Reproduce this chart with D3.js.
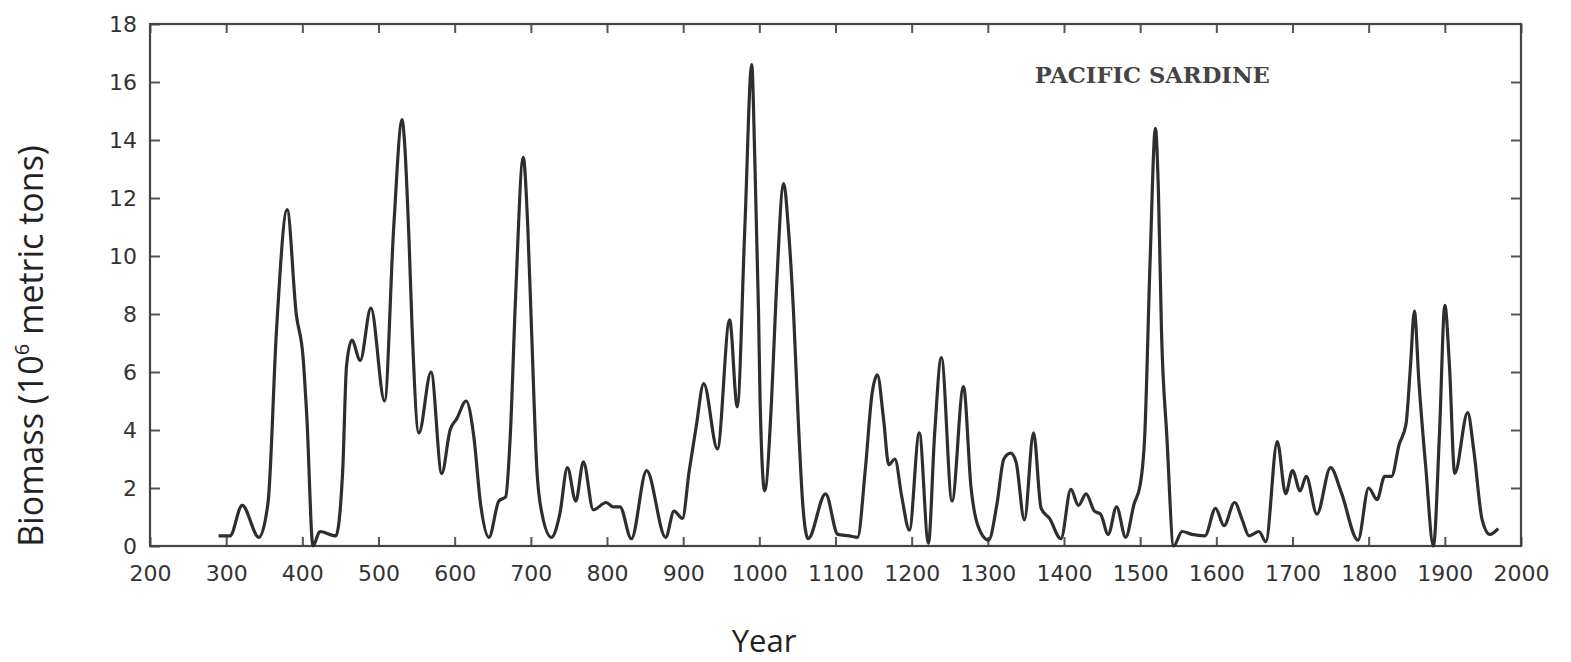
<!DOCTYPE html>
<html>
<head>
<meta charset="utf-8">
<script src="https://cdn.jsdelivr.net/npm/d3@7"></script>
<style>
  body { margin: 0; background: #fff; }
  svg { display: block; }
</style>
</head>
<body>
<svg id="chart"></svg>
<script>
// values
const years = [
  290, 305, 321, 343, 355, 366, 380, 392, 401, 406, 414, 423, 444, 453, 458, 465, 476, 490,
  508, 520, 531, 534, 540, 544, 553, 569, 583, 594, 603, 615, 625, 634, 645, 658, 667, 673,
  680, 690, 696, 701, 708, 714, 727, 738, 748, 759, 769, 782, 799, 808, 817, 832, 852, 877,
  888, 899, 908, 917, 927, 945, 961, 971, 981, 990, 994, 999, 1001, 1007, 1016, 1022, 1032,
  1038, 1045, 1051, 1057, 1064, 1087, 1103, 1118, 1129, 1139, 1148, 1155, 1163, 1170, 1178,
  1187, 1197, 1210, 1222, 1230, 1239, 1253, 1268, 1278, 1287, 1301, 1312, 1321, 1330, 1337,
  1348, 1360, 1370, 1381, 1396, 1409, 1419, 1429, 1440, 1448, 1458, 1469, 1481, 1492, 1500,
  1506, 1513, 1520, 1524, 1528, 1535, 1544, 1555, 1568, 1585, 1599, 1610, 1624, 1634, 1643,
  1656, 1665, 1680, 1691, 1700, 1710, 1718, 1732, 1750, 1764, 1786, 1800, 1811, 1821, 1830,
  1840, 1849, 1855, 1860, 1866, 1875, 1885, 1893, 1900, 1906, 1913, 1930, 1938, 1949, 1959, 1970
];
const biomass = [
  0.35, 0.35, 1.4, 0.3, 1.5, 7.4, 11.6, 8.0, 6.5, 4.4, 0.0, 0.5, 0.35, 2.6, 6.2, 7.1, 6.4, 8.2,
  5.0, 11.0, 14.7, 14.0, 10.6, 7.6, 3.9, 6.0, 2.5, 4.0, 4.4, 5.0, 3.8, 1.45, 0.3, 1.55, 1.7, 3.8,
  8.6, 13.4, 11.0, 7.4, 2.6, 1.2, 0.3, 1.1, 2.7, 1.55, 2.9, 1.25, 1.5, 1.35, 1.35, 0.25, 2.6, 0.3,
  1.2, 0.95, 2.6, 4.1, 5.6, 3.35, 7.8, 4.8, 11.0, 16.6, 13.4, 8.0, 5.0, 1.9, 5.0, 8.6, 12.5,
  11.0, 8.0, 4.4, 1.45, 0.25, 1.8, 0.4, 0.35, 0.3, 2.6, 5.25, 5.9, 4.4, 2.8, 3.0,
  1.7, 0.55, 3.9, 0.1, 3.8, 6.5, 1.55, 5.5, 2.0, 0.7, 0.2, 1.45, 3.0, 3.2, 2.9,
  0.9, 3.9, 1.3, 0.95, 0.25, 1.95, 1.4, 1.8, 1.2, 1.1, 0.4, 1.35, 0.3, 1.45, 2.1,
  3.8, 9.8, 14.4, 12.2, 7.4, 3.8, 0.0, 0.5, 0.4, 0.35, 1.3, 0.7, 1.5, 0.9, 0.35,
  0.5, 0.15, 3.6, 1.8, 2.6, 1.9, 2.4, 1.1, 2.7, 1.85, 0.2, 2.0, 1.6, 2.4, 2.4,
  3.5, 4.2, 6.25, 8.1, 5.65, 2.7, 0.0, 3.9, 8.3, 6.25, 2.5, 4.6, 3.3, 0.9, 0.4, 0.6
];
const xTicks = d3.range(200, 2001, 100);
const yTicks = d3.range(0, 19, 2);
const title = "PACIFIC SARDINE";

const width = 1571, height = 662;
const margin = {top: 24, right: 50, bottom: 116, left: 150};
const innerW = width - margin.left - margin.right;
const innerH = height - margin.top - margin.bottom;

const svg = d3.select("#chart")
  .attr("width", width)
  .attr("height", height);

const chart = svg.append("g")
  .attr("transform", `translate(${margin.left}, ${margin.top})`);

const xscale = d3.scaleLinear().domain([200, 2000]).range([0, innerW]);
const yscale = d3.scaleLinear().domain([0, 18]).range([innerH, 0]);

const tickFont = g => g.selectAll("text")
  .attr("font-family", "DejaVu Sans, sans-serif")
  .attr("font-size", 22)
  .attr("fill", "#333");

const stroke = g => {
  g.select(".domain").remove();
  g.selectAll("line").attr("stroke", "#555").attr("stroke-width", 2);
};

// bottom + left axes with labels, ticks pointing inwards
chart.append("g")
  .attr("transform", `translate(0, ${innerH})`)
  .call(d3.axisBottom(xscale).tickValues(xTicks).tickSize(-9).tickPadding(19).tickFormat(d3.format("d")))
  .call(stroke).call(tickFont);

chart.append("g")
  .call(d3.axisLeft(yscale).tickValues(yTicks).tickSize(-10).tickPadding(13).tickFormat(d3.format("d")))
  .call(stroke).call(tickFont);

// top + right axes, ticks only
chart.append("g")
  .call(d3.axisTop(xscale).tickValues(xTicks).tickSize(-9).tickFormat(""))
  .call(stroke);

chart.append("g")
  .attr("transform", `translate(${innerW}, 0)`)
  .call(d3.axisRight(yscale).tickValues(yTicks.slice(1, -1)).tickSize(-10).tickFormat(""))
  .call(stroke);

chart.append("rect")
  .attr("width", innerW)
  .attr("height", innerH)
  .attr("fill", "none")
  .attr("stroke", "#444")
  .attr("stroke-width", 2.2);

const data = years.map((y, i) => ({year: y, value: biomass[i]}));

const line = d3.line()
  .x(d => xscale(d.year))
  .y(d => yscale(d.value))
  .curve(d3.curveMonotoneX);

chart.append("path")
  .datum(data)
  .attr("d", line)
  .attr("fill", "none")
  .attr("stroke", "#2e2e2e")
  .attr("stroke-width", 3.2)
  .attr("stroke-linejoin", "round");

chart.append("text")
  .attr("x", xscale(1516))
  .attr("y", yscale(15.95))
  .attr("text-anchor", "middle")
  .attr("font-family", "DejaVu Serif, serif")
  .attr("font-weight", "bold")
  .attr("font-size", 23)
  .attr("textLength", 235)
  .attr("lengthAdjust", "spacingAndGlyphs")
  .attr("fill", "#444")
  .text(title);

// axis titles
const ylab = svg.append("text")
  .attr("transform", "rotate(-90)")
  .attr("x", -346)
  .attr("y", 43)
  .attr("text-anchor", "middle")
  .attr("font-family", "Open Sans, sans-serif")
  .attr("font-size", 34)
  .attr("fill", "#222");
ylab.append("tspan").text("Biomass (10");
ylab.append("tspan").attr("font-size", 20).attr("dy", -14).text("6");
ylab.append("tspan").attr("dy", 14).text(" metric tons)");

svg.append("text")
  .attr("x", 764)
  .attr("y", 652)
  .attr("text-anchor", "middle")
  .attr("font-family", "Open Sans, sans-serif")
  .attr("font-size", 31)
  .attr("fill", "#222")
  .text("Year");
</script>
</body>
</html>
